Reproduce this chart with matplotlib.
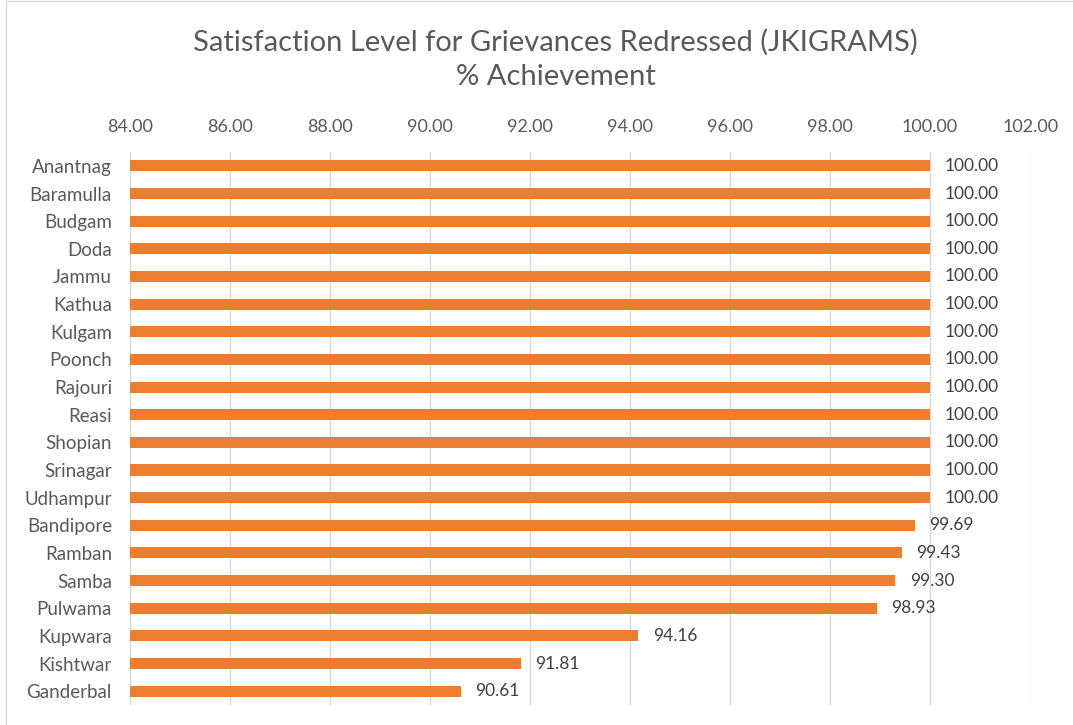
import matplotlib.pyplot as plt
from matplotlib.patches import Rectangle

districts = ["Anantnag", "Baramulla", "Budgam", "Doda", "Jammu", "Kathua", "Kulgam",
             "Poonch", "Rajouri", "Reasi", "Shopian", "Srinagar", "Udhampur",
             "Bandipore", "Ramban", "Samba", "Pulwama", "Kupwara", "Kishtwar", "Ganderbal"]
achievement = [100.00, 100.00, 100.00, 100.00, 100.00, 100.00, 100.00,
               100.00, 100.00, 100.00, 100.00, 100.00, 100.00,
               99.69, 99.43, 99.30, 98.93, 94.16, 91.81, 90.61]
xticks = [84, 86, 88, 90, 92, 94, 96, 98, 100, 102]

plt.rcParams['font.family'] = ['Lato', 'DejaVu Sans']
grey = '#595959'

fig = plt.figure(figsize=(10.73, 7.25), dpi=100)
ax = fig.add_axes([0.1212, 0.0276, 0.8388, 0.7627])

y = list(range(len(districts)))
left = xticks[0]
ax.barh(y, [v - left for v in achievement], left=left, height=0.4,
        color='#ED7D31', zorder=3)
for yi, v in zip(y, achievement):
    ax.text(v + 0.3, yi, f"{v:.2f}", va='center', ha='left',
            fontsize=12.5, color='#404040')

ax.set_xlim(84, 102)
ax.set_ylim(len(districts) - 0.5, -0.5)
ax.set_yticks(y)
ax.set_yticklabels(districts, fontsize=13.5, color=grey)
ax.set_xticks(xticks)
ax.set_xticklabels([f"{t:.2f}" for t in xticks], fontsize=13, color=grey)
ax.xaxis.tick_top()
ax.tick_params(axis='both', length=0)
ax.tick_params(axis='x', pad=12)
ax.tick_params(axis='y', pad=13)
ax.grid(axis='x', color='#D9D9D9', linewidth=1, zorder=0)
for s in ax.spines.values():
    s.set_visible(False)

fig.text(0.518, 0.918, "Satisfaction Level for Grievances Redressed (JKIGRAMS)\n% Achievement",
         ha='center', va='center', fontsize=21, color=grey, linespacing=1.4)

fig.patches.append(Rectangle((0.006, -0.01), 1.0, 1.008, transform=fig.transFigure,
                             fill=False, edgecolor='#D9D9D9', linewidth=1))

fig.savefig('out.png', dpi=100)
